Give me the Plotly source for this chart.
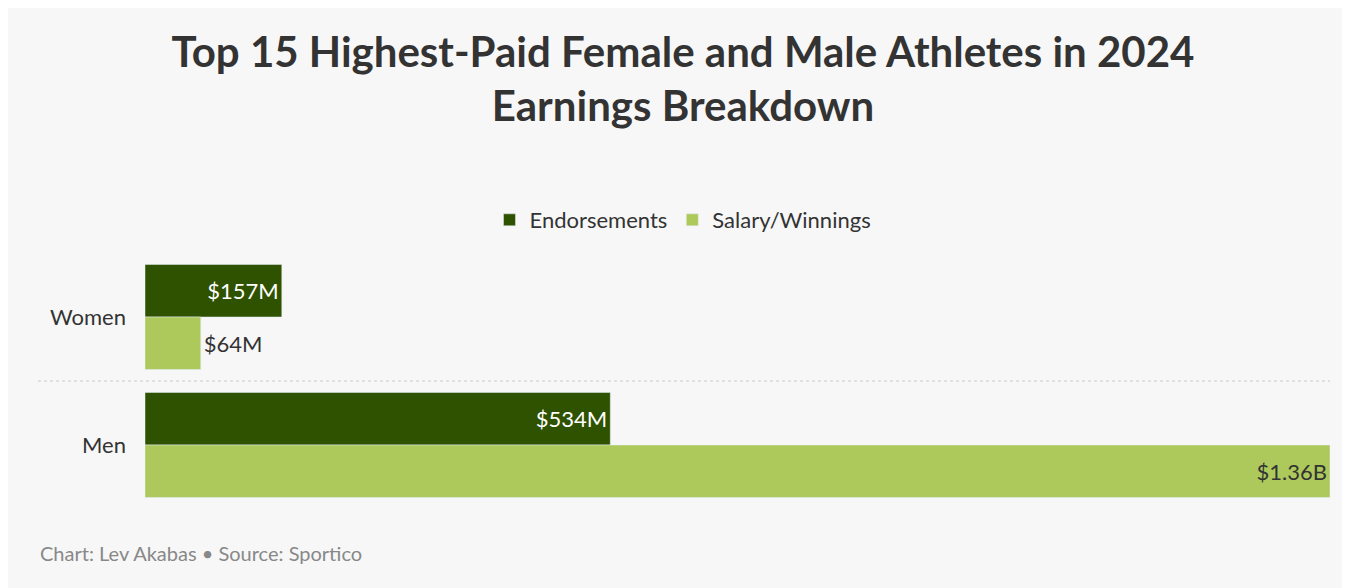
import plotly.graph_objects as go

categories = ["Women", "Men"]
endorsements = [157, 534]
salary = [64, 1360]
endorse_labels = ["$157M", "$534M"]
salary_labels = ["$64M", "$1.36B"]

dark = "#2f5200"
light = "#adc95c"
fig = go.Figure()
fig.add_bar(y=categories, x=endorsements, orientation="h", name="Endorsements",
            marker_color=dark, text=endorse_labels, textposition="inside",
            insidetextanchor="end", textfont=dict(color="white", size=22),
            cliponaxis=False)
fig.add_bar(y=categories, x=salary, orientation="h", name="Salary/Winnings",
            marker_color=light, text=salary_labels, textposition="auto",
            insidetextanchor="end", textfont=dict(color="#333", size=22),
            cliponaxis=False)
fig.update_traces(textangle=0, constraintext="none")
fig.update_layout(
    width=1350, height=588, paper_bgcolor="#f7f7f7", plot_bgcolor="#f7f7f7",
    font=dict(family="Lato", color="#333", size=22),
    barmode="group", bargap=0.18, bargroupgap=0,
    margin=dict(l=137, r=28, t=241, b=87),
    title=dict(text="<b>Top 15 Highest-Paid Female and Male Athletes in 2024<br>Earnings Breakdown</b>",
               x=0.5, xref="container", xanchor="center", y=0.9, yanchor="middle",
               font=dict(size=42, color="#333")),
    legend=dict(orientation="h", x=0.5, xref="container", xanchor="center",
                y=1 - 212 / 588, yref="container", yanchor="middle",
                font=dict(size=22), traceorder="normal", bgcolor="rgba(0,0,0,0)"),
    xaxis=dict(visible=False, range=[0, 1360], fixedrange=True),
    yaxis=dict(autorange="reversed", showgrid=False, ticklabelstandoff=18,
               tickfont=dict(size=22, color="#333")),
    uniformtext=dict(mode="show", minsize=10),
)
fig.add_shape(type="line", xref="paper", yref="y", x0=-107 / 1185, x1=1, y0=0.5, y1=0.5,
              line=dict(color="#c8c8c8", width=1, dash="dot"))
fig.add_annotation(text="Chart: Lev Akabas • Source: Sportico", xref="paper", yref="paper",
                   x=-107 / 1185, y=-45 / 260, xanchor="left", yanchor="middle",
                   showarrow=False, font=dict(size=20, color="#888"))
fig.write_html("out.html")
